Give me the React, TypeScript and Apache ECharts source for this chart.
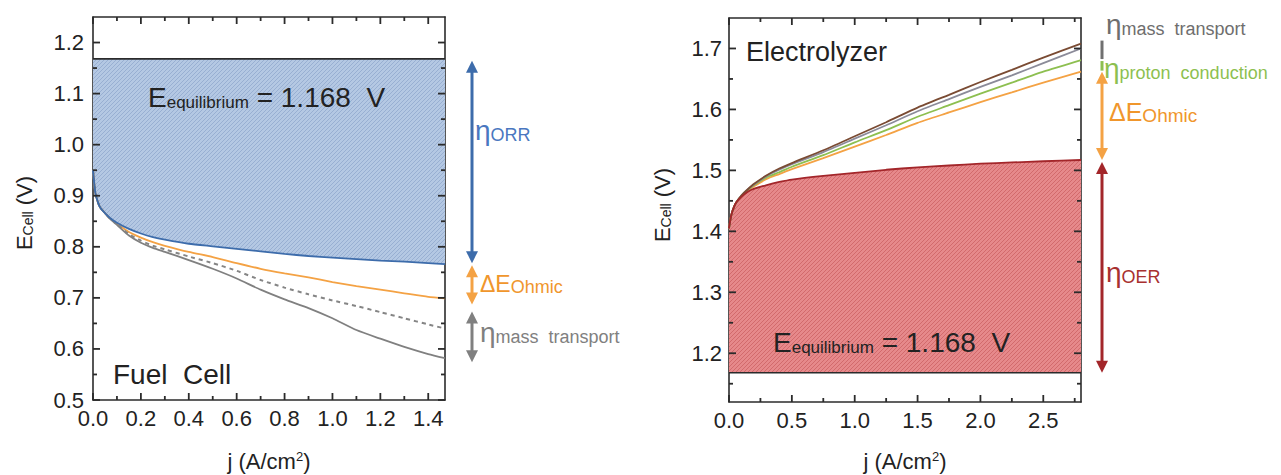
import React, { useEffect, useRef } from 'react';
import * as echarts from 'echarts';

const FONT = '"Liberation Sans", Arial, Helvetica, sans-serif';

// ---------- Fuel cell (left) ----------
const E_EQ = 1.168;
const fcJ = [0, 0.005, 0.01, 0.02, 0.03, 0.05, 0.07, 0.1, 0.15, 0.2, 0.25, 0.3, 0.4, 0.5, 0.6, 0.7, 0.8, 0.9, 1.0, 1.1, 1.2, 1.3, 1.4, 1.47];
const fcORR = [0.95, 0.925, 0.905, 0.888, 0.877, 0.866, 0.857, 0.847, 0.835, 0.826, 0.819, 0.814, 0.806, 0.801, 0.796, 0.791, 0.786, 0.782, 0.779, 0.776, 0.773, 0.771, 0.768, 0.766];
const fcOhmic = [0.95, 0.925, 0.905, 0.888, 0.877, 0.866, 0.856, 0.845, 0.829, 0.818, 0.809, 0.802, 0.79, 0.78, 0.768, 0.757, 0.748, 0.74, 0.731, 0.723, 0.716, 0.709, 0.702, 0.699];
const fcDashed = [0.95, 0.925, 0.905, 0.888, 0.877, 0.866, 0.856, 0.844, 0.825, 0.812, 0.802, 0.795, 0.781, 0.768, 0.753, 0.735, 0.72, 0.707, 0.695, 0.684, 0.672, 0.66, 0.648, 0.64];
const fcTotal = [0.95, 0.925, 0.905, 0.888, 0.877, 0.866, 0.855, 0.843, 0.822, 0.808, 0.798, 0.79, 0.774, 0.757, 0.738, 0.716, 0.697, 0.68, 0.66, 0.637, 0.62, 0.604, 0.59, 0.582];
const fcXRange = [0, 1.47];
const fcYRange = [0.5, 1.25];
const fcXTicks = [0, 0.2, 0.4, 0.6, 0.8, 1.0, 1.2, 1.4];
const fcXMinor = [0.1, 0.3, 0.5, 0.7, 0.9, 1.1, 1.3];
const fcYTicks = [0.5, 0.6, 0.7, 0.8, 0.9, 1.0, 1.1, 1.2];
const fcYMinor = [0.55, 0.65, 0.75, 0.85, 0.95, 1.05, 1.15];

// ---------- Electrolyzer (right) ----------
const elJ = [0, 0.01, 0.02, 0.04, 0.06, 0.1, 0.15, 0.2, 0.3, 0.4, 0.5, 0.75, 1.0, 1.25, 1.5, 1.75, 2.0, 2.25, 2.5, 2.8];
const elOER = [1.405, 1.418, 1.428, 1.44, 1.448, 1.457, 1.465, 1.47, 1.476, 1.481, 1.485, 1.491, 1.496, 1.501, 1.505, 1.508, 1.511, 1.513, 1.515, 1.517];
const elOhmic = [1.405, 1.418, 1.428, 1.44, 1.448, 1.458, 1.467, 1.474, 1.486, 1.494, 1.502, 1.52, 1.539, 1.558, 1.578, 1.595, 1.612, 1.628, 1.644, 1.662];
const elProton = [1.405, 1.418, 1.428, 1.44, 1.448, 1.458, 1.468, 1.476, 1.489, 1.497, 1.506, 1.525, 1.546, 1.566, 1.588, 1.607, 1.626, 1.644, 1.662, 1.681];
const elGray = [1.405, 1.418, 1.428, 1.44, 1.448, 1.459, 1.469, 1.477, 1.491, 1.501, 1.51, 1.53, 1.552, 1.574, 1.597, 1.617, 1.637, 1.656, 1.676, 1.7];
const elMass = [1.405, 1.418, 1.428, 1.44, 1.448, 1.459, 1.469, 1.478, 1.492, 1.503, 1.512, 1.533, 1.556, 1.579, 1.603, 1.624, 1.645, 1.665, 1.685, 1.708];
const elXRange = [0, 2.8];
const elYRange = [1.12, 1.75];
const elXTicks = [0, 0.5, 1.0, 1.5, 2.0, 2.5];
const elXMinor = [0.25, 0.75, 1.25, 1.75, 2.25, 2.75];
const elYTicks = [1.2, 1.3, 1.4, 1.5, 1.6, 1.7];
const elYMinor = [1.15, 1.25, 1.35, 1.45, 1.55, 1.65];

const C = {
  axis: '#2b2b2b',
  text: '#222222',
  blue: '#3d6cab',
  blueText: '#4a77c0',
  orange: '#f4a244',
  orangeText: '#f0962c',
  gray: '#808080',
  dashed: '#858585',
  red: '#a3262a',
  redText: '#a8302f',
  green: '#8dbf50',
  brown: '#7a4b33',
  grayBlue: '#8b8b99',
};

function hatch(base: string, line: string) {
  const c = document.createElement('canvas');
  c.width = 4;
  c.height = 4;
  const ctx = c.getContext('2d')!;
  ctx.fillStyle = base;
  ctx.fillRect(0, 0, 4, 4);
  ctx.strokeStyle = line;
  ctx.lineWidth = 1;
  ctx.beginPath();
  ctx.moveTo(0, 4);
  ctx.lineTo(4, 0);
  ctx.moveTo(-1, 1);
  ctx.lineTo(1, -1);
  ctx.moveTo(3, 5);
  ctx.lineTo(5, 3);
  ctx.stroke();
  return { image: c, repeat: 'repeat' };
}

const labelFrom = (ticks: number[]) => (v: number) =>
  ticks.some((t) => Math.abs(t - v) < 1e-6) ? v.toFixed(1) : '';

function axisBase(pos: string, gridIndex: number, range: number[], interval: number | null, showLabel: boolean, ticks: number[] = [], margin = 8) {
  const a: any = {
    type: 'value',
    gridIndex,
    position: pos,
    min: range[0],
    max: range[1],
    axisLine: { show: true, onZero: false, lineStyle: { color: C.axis, width: 1.6 } },
    axisTick: { show: false },
    minorTick: { show: false },
    splitLine: { show: false },
    minorSplitLine: { show: false },
    axisLabel: {
      show: showLabel,
      fontFamily: FONT,
      fontSize: 22,
      color: C.text,
      margin,
      formatter: labelFrom(ticks),
      showMinLabel: true,
      showMaxLabel: true,
      hideOverlap: false,
    },
  };
  if (interval != null) a.interval = interval;
  else a.splitNumber = 6;
  return a;
}

export default function App() {
  const ref = useRef<HTMLDivElement>(null);

  useEffect(() => {
    const chart = echarts.init(ref.current!, null, { renderer: 'svg' });
    const blueFill = hatch('#b4c8e3', '#98afd2');
    const redFill = hatch('#e6898b', '#d26a6c');
    const line = (name: string, x: number[], y: number[], color: string, xi: number, yi: number, extra: any = {}) => ({
      name,
      type: 'line',
      xAxisIndex: xi,
      yAxisIndex: yi,
      data: x.map((j, i) => [j, y[i]]),
      symbol: 'none',
      smooth: 0.2,
      clip: true,
      lineStyle: { color, width: 1.8 },
      ...extra,
    });
    // filled region between a curve and the equilibrium line, drawn through the axes' scales
    const band = (x: number[], y: number[], fill: any, xi: number, yi: number) => ({
      type: 'custom',
      xAxisIndex: xi,
      yAxisIndex: yi,
      data: [[x[0], E_EQ]],
      clip: true,
      z: 1,
      silent: true,
      renderItem: (_p: any, api: any) => {
        const pts = x.map((j, i) => api.coord([j, y[i]]));
        pts.push(api.coord([x[x.length - 1], E_EQ]));
        pts.push(api.coord([x[0], E_EQ]));
        return { type: 'polygon', shape: { points: pts }, style: { fill, stroke: 'none' } };
      },
    });

    const option: any = {
      animation: false,
      backgroundColor: '#ffffff',
      grid: [
        { left: 93, top: 17, width: 352, height: 383, outerBoundsMode: 'none', containLabel: false },
        { left: 729, top: 18, width: 352, height: 384, outerBoundsMode: 'none', containLabel: false },
      ],
      xAxis: [
        axisBase('bottom', 0, fcXRange, 0.2, true, fcXTicks, 7),
        axisBase('top', 0, fcXRange, 0.2, false),
        axisBase('bottom', 1, elXRange, 0.5, true, elXTicks, 7),
        axisBase('top', 1, elXRange, 0.5, false),
      ],
      yAxis: [
        axisBase('left', 0, fcYRange, 0.1, true, fcYTicks, 9),
        axisBase('right', 0, fcYRange, 0.1, false),
        axisBase('left', 1, elYRange, null, true, elYTicks, 7),
        axisBase('right', 1, elYRange, null, false),
      ],
      series: [
        line('ORR', fcJ, fcORR, C.blue, 0, 0, { z: 4 }),
        band(fcJ, fcORR, blueFill, 0, 0),
        line('eqL', [fcXRange[0], fcXRange[1]], [E_EQ, E_EQ], C.axis, 0, 0, { z: 4, smooth: false, lineStyle: { color: C.axis, width: 1.6 } }),
        line('Ohmic', fcJ, fcOhmic, C.orange, 0, 0, { z: 3 }),
        line('dashed', fcJ, fcDashed, C.dashed, 0, 0, { z: 3, lineStyle: { color: C.dashed, width: 2, type: [4, 4] } }),
        line('total', fcJ, fcTotal, C.gray, 0, 0, { z: 3 }),

        line('eqR', [elXRange[0], elXRange[1]], [E_EQ, E_EQ], C.axis, 2, 2, { z: 4, smooth: false, lineStyle: { color: C.axis, width: 1.6 } }),
        band(elJ, elOER, redFill, 2, 2),
        line('OER', elJ, elOER, C.red, 2, 2, { z: 4, lineStyle: { color: C.red, width: 1.8 } }),
        line('elOhmic', elJ, elOhmic, C.orange, 2, 2, { z: 3 }),
        line('proton', elJ, elProton, C.green, 2, 2, { z: 3 }),
        line('gray', elJ, elGray, C.grayBlue, 2, 2, { z: 3 }),
        line('mass', elJ, elMass, C.brown, 2, 2, { z: 3 }),
      ],
    };
    chart.setOption(option);

    const pL = (x: number, y: number) => {
      const r = chart.convertToPixel({ seriesIndex: 0 }, [x, y]) as number[];
      return [r[0], r[1]];
    };
    const pR = (x: number, y: number) => {
      const r = chart.convertToPixel({ seriesIndex: 6 }, [x, y]) as number[];
      return [r[0], r[1]];
    };

    const g: any[] = [];
    const seg = (x1: number, y1: number, x2: number, y2: number, color: string, w: number) =>
      g.push({ type: 'line', z: 100, silent: true, shape: { x1, y1, x2, y2 }, style: { stroke: color, lineWidth: w } });
    const tickPoly = (x: number, y: number, width: number, height: number) =>
      g.push({
        type: 'polygon',
        z: 100,
        silent: true,
        shape: { points: [[x, y], [x + width, y], [x + width, y + height], [x, y + height]] },
        style: { fill: C.axis },
      });

    // inward ticks on all four sides, positioned through the axes' scales
    const frameTicks = (p: (x: number, y: number) => number[], xr: number[], yr: number[], xMaj: number[], xMin: number[], yMaj: number[], yMin: number[]) => {
      const tw = 1.8;
      const xt = (v: number, len: number) => {
        const bx0 = p(v, yr[0])[0];
        const by0 = p(v, yr[0])[1];
        const ty0 = p(v, yr[1])[1];
        tickPoly(bx0 - tw / 2, by0 - len, tw, len);
        tickPoly(bx0 - tw / 2, ty0, tw, len);
      };
      const yt = (v: number, len: number) => {
        const lx0 = p(xr[0], v)[0];
        const ly0 = p(xr[0], v)[1];
        const rx0 = p(xr[1], v)[0];
        tickPoly(lx0, ly0 - tw / 2, len, tw);
        tickPoly(rx0 - len, ly0 - tw / 2, len, tw);
      };
      xMaj.forEach((v) => xt(v, 7));
      xMin.forEach((v) => xt(v, 4));
      yMaj.forEach((v) => yt(v, 7));
      yMin.forEach((v) => yt(v, 4));
    };

    const arrow = (x: number, y1: number, y2: number, color: string, heads: boolean, w = 3) => {
      const hl = 12;
      const hw = 6;
      if (heads) {
        seg(x, y1 + hl - 2, x, y2 - hl + 2, color, w);
        g.push({ type: 'polygon', z: 100, shape: { points: [[x, y1], [x - hw, y1 + hl], [x + hw, y1 + hl]] }, style: { fill: color }, silent: true });
        g.push({ type: 'polygon', z: 100, shape: { points: [[x, y2], [x - hw, y2 - hl], [x + hw, y2 - hl]] }, style: { fill: color }, silent: true });
      } else {
        seg(x, y1, x, y2, color, w);
      }
    };
    const txt = (x: number, y: number, text: string, rich: any, extra: any = {}, fontSize = 20) => {
      g.push({
        type: 'text',
        x,
        y,
        z: 100,
        silent: true,
        ...extra,
        style: {
          text,
          rich,
          fontFamily: FONT,
          fontSize,
          fill: C.text,
          textAlign: extra.align || 'left',
          align: extra.align || 'left',
          textVerticalAlign: 'middle',
          verticalAlign: 'middle',
        },
      });
    };
    const tok = (size: number, color: string, va = 'bottom', extra: any = {}) => ({
      fontSize: size,
      fontFamily: FONT,
      fill: color,
      color,
      lineHeight: size,
      verticalAlign: va,
      ...extra,
    });

    // ----- left annotations -----
    const lRight = pL(fcXRange[1], 0)[0];
    const ax = lRight + 27;
    const lastL = fcJ.length - 1;
    arrow(ax, pL(0, E_EQ)[1] + 2, pL(0, fcORR[lastL])[1] - 1, C.blue, true);
    arrow(ax, pL(0, fcORR[lastL])[1] + 1, pL(0, fcOhmic[lastL])[1] + 6, C.orange, true);
    arrow(ax, pL(0, fcOhmic[lastL])[1] + 13, pL(0, fcTotal[lastL])[1] + 4, C.gray, true);

    txt(ax + 3, 130, '{e|η}{s|ORR}', { e: tok(28, C.blueText), s: tok(18, C.blueText) });
    txt(ax + 8, 284, '{d|ΔE}{s|Ohmic}', { d: tok(23, C.orangeText), s: tok(18, C.orangeText) });
    txt(ax + 8, 332, '{e|η}{s|mass  transport}', { e: tok(28, C.gray), s: tok(18, C.gray) });

    txt(148, 97, '{a|E}{b|equilibrium}{a| = 1.168  V}', { a: tok(28, C.text), b: tok(17, C.text) });
    txt(113, 374, 'Fuel  Cell', {}, {}, 28);

    // axis titles (left)
    const lMidX = (pL(fcXRange[0], 0)[0] + lRight) / 2;
    txt(lMidX, 461, '{a|j (A/cm}{c|2}{a|)}', { a: tok(22, C.text), c: tok(13, C.text, 'top') }, { align: 'center' });
    txt(24, 213, '{a|E}{b|Cell}{a| (V)}', { a: tok(22, C.text), b: tok(14, C.text) }, { align: 'center', rotation: Math.PI / 2 });

    // ----- right annotations -----
    const rLeft = pR(elXRange[0], 1.2)[0];
    const rRight = pR(elXRange[1], 1.2)[0];
    const bx = rRight + 21;
    const lastR = elJ.length - 1;
    arrow(bx, pR(0, elMass[lastR])[1] - 3, pR(0, elProton[lastR])[1] - 1, '#707070', false, 3);
    arrow(bx, pR(0, elProton[lastR])[1] + 1, pR(0, elOhmic[lastR])[1] - 1, C.green, false, 3);
    arrow(bx, pR(0, elOhmic[lastR])[1], pR(0, elOER[lastR])[1], C.orange, true);
    arrow(bx, pR(0, elOER[lastR])[1] + 2, pR(0, E_EQ)[1], C.red, true);

    txt(bx + 4, 24, '{e|η}{s|mass  transport}', { e: tok(28, '#6e6e6e'), s: tok(18, '#6e6e6e') });
    txt(bx + 2, 68, '{e|η}{s|proton  conduction}', { e: tok(28, C.green), s: tok(18, C.green) });
    txt(bx + 7, 112, '{d|ΔE}{s|Ohmic}', { d: tok(25, C.orangeText), s: tok(19, C.orangeText) });
    txt(bx + 4, 272, '{e|η}{s|OER}', { e: tok(28, C.redText), s: tok(18, C.redText) });

    txt(773, 342, '{a|E}{b|equilibrium}{a| = 1.168  V}', { a: tok(28, C.text), b: tok(17, C.text) });
    txt(746, 52, 'Electrolyzer', {}, {}, 27);

    const rMidX = (rLeft + rRight) / 2;
    txt(rMidX, 461, '{a|j (A/cm}{c|2}{a|)}', { a: tok(22, C.text), c: tok(13, C.text, 'top') }, { align: 'center' });
    txt(662, 205, '{a|E}{b|Cell}{a| (V)}', { a: tok(22, C.text), b: tok(14, C.text) }, { align: 'center', rotation: Math.PI / 2 });

    // frame ticks last so they sit on top of everything
    frameTicks(pL, fcXRange, fcYRange, fcXTicks, fcXMinor, fcYTicks, fcYMinor);
    frameTicks(pR, elXRange, elYRange, elXTicks, elXMinor, elYTicks, elYMinor);

    chart.setOption({ graphic: { elements: g } });

    return () => chart.dispose();
  }, []);

  return (
    <div
      ref={ref}
      style={{ position: 'fixed', left: 0, top: 0, width: 1281, height: 475, background: '#fff' }}
    />
  );
}
